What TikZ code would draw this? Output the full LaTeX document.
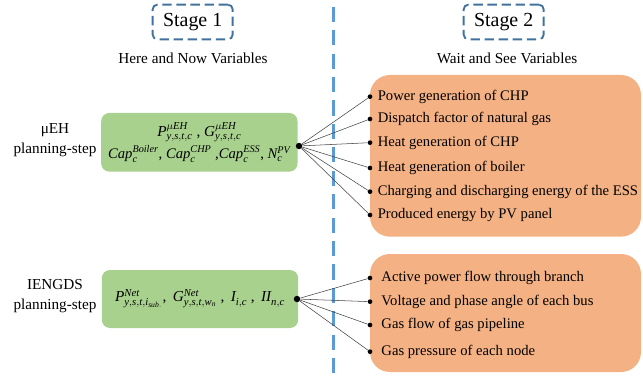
\documentclass[tikz,border=0pt]{standalone}
\usepackage{fontspec}
\setmainfont{Liberation Serif}
\usetikzlibrary{positioning}
\definecolor{stageblue}{HTML}{41719C}
\definecolor{lineblue}{HTML}{5B9BD5}
\definecolor{grn}{HTML}{A9D18E}
\definecolor{org}{HTML}{F4B183}
% italic variable with super- and subscript in the text face
\newcommand{\vr}[3]{\mathit{#1}^{\mathit{#2}}_{\mathit{#3}}}

\begin{document}
\begin{tikzpicture}[
    font=\fontsize{13}{17}\selectfont,
    stg/.style={draw=stageblue, line width=1.6pt, dash pattern=on 8pt off 4pt, rounded corners=4pt, minimum width=2.4cm, minimum height=1.04cm, font=\fontsize{17}{20}\selectfont},
    var/.style={fill=grn, rounded corners=7pt, minimum width=5.89cm, minimum height=1.76cm, align=center, inner sep=2pt, font=\fontsize{12.5}{16}\selectfont},
    res/.style={fill=org, rounded corners=17pt, minimum width=8.13cm},
    dot/.style={circle, fill=black, inner sep=0pt, minimum size=4pt},
    hub/.style={circle, fill=black, inner sep=0pt, minimum size=5.5pt},
    itm/.style={inner sep=0pt, font=\fontsize{12.5}{14}\selectfont},
    ln/.style={draw=black!75, line width=0.45pt}
  ]
  \useasboundingbox (0,0) rectangle (19.29,-11.58);

  % stage headers and the dashed divider
  \node[stg] (s1) at (5.78,-0.66) {Stage 1};
  \node[stg] (s2) at (15.11,-0.66) {Stage 2};
  \node (hn) at (5.79,-1.74) {Here and Now Variables};
  \node (ws) at (15.21,-1.74) {Wait and See Variables};
  \coordinate (vt) at (10.0,-0.2);
  \coordinate (vb) at (10.0,-11.4);
  \draw[lineblue, line width=2.2pt, dash pattern=on 13pt off 7pt] (vt) -- (vb);

  % planning steps
  \node[align=center] (l1) at (1.65,-4.2) {μEH\\planning-step};
  \node[align=center] (l2) at (1.65,-8.88) {IENGDS\\planning-step};

  \node[var] (g1) at (5.98,-4.27) {{\fontsize{13}{16}\selectfont$\vr{P}{\mu EH}{y,s,t,c}$ , $\vr{G}{\mu EH}{y,s,t,c}$}\\[3pt]
    $\vr{Cap}{Boiler}{c}$, $\vr{Cap}{CHP}{c}$ ,$\vr{Cap}{ESS}{c}$, $\vr{N}{PV}{c}$};
  \node[var, minimum height=1.74cm, font=\fontsize{13}{16}\selectfont] (g2) at (6.0,-8.97) {$\vr{P}{Net}{y,s,t,i_{sub.}}$,\, $\vr{G}{Net}{y,s,t,w_n}$ ,\, $\vr{I}{}{i,c}$ ,\, $\vr{II}{}{n,c}$};

  \node[res, minimum height=4.85cm] (o1) at (15.165,-4.675) {};
  \node[res, minimum height=3.54cm] (o2) at (15.165,-9.39) {};

  \node[hub] (h1) at (8.97,-4.38) {};
  \node[hub] (h2) at (8.91,-8.97) {};

  % wait and see variables of the uEH
  \node[dot] (p1) at (11.1,-2.90) {};
  \node[dot] (p2) at (11.1,-3.57) {};
  \node[dot] (p3) at (11.1,-4.28) {};
  \node[dot] (p4) at (11.1,-5.04) {};
  \node[dot] (p5) at (11.1,-5.75) {};
  \node[dot] (p6) at (11.1,-6.45) {};
  \node[itm, right=0.15cm of p1] (t1) {Power generation of CHP};
  \node[itm, right=0.15cm of p2] (t2) {Dispatch factor of natural gas};
  \node[itm, right=0.15cm of p3] (t3) {Heat generation of CHP};
  \node[itm, right=0.15cm of p4] (t4) {Heat generation of boiler};
  \node[itm, right=0.15cm of p5] (t5) {Charging and discharging energy of the ESS};
  \node[itm, right=0.15cm of p6] (t6) {Produced energy by PV panel};
  \draw[ln] (h1) -- (p1);
  \draw[ln] (h1) -- (p2);
  \draw[ln] (h1) -- (p3);
  \draw[ln] (h1) -- (p4);
  \draw[ln] (h1) -- (p5);
  \draw[ln] (h1) -- (p6);

  % wait and see variables of the IENGDS
  \node[dot] (q1) at (11.1,-8.34) {};
  \node[dot] (q2) at (11.1,-9.05) {};
  \node[dot] (q3) at (11.1,-9.75) {};
  \node[dot] (q4) at (11.1,-10.55) {};
  \node[itm, right=0.26cm of q1] (u1) {Active power flow through branch};
  \node[itm, right=0.26cm of q2] (u2) {Voltage and phase angle of each bus};
  \node[itm, right=0.26cm of q3] (u3) {Gas flow of gas pipeline};
  \node[itm, right=0.26cm of q4] (u4) {Gas pressure of each node};
  \draw[ln] (h2) -- (q1);
  \draw[ln] (h2) -- (q2);
  \draw[ln] (h2) -- (q3);
  \draw[ln] (h2) -- (q4);
\end{tikzpicture}
\end{document}
